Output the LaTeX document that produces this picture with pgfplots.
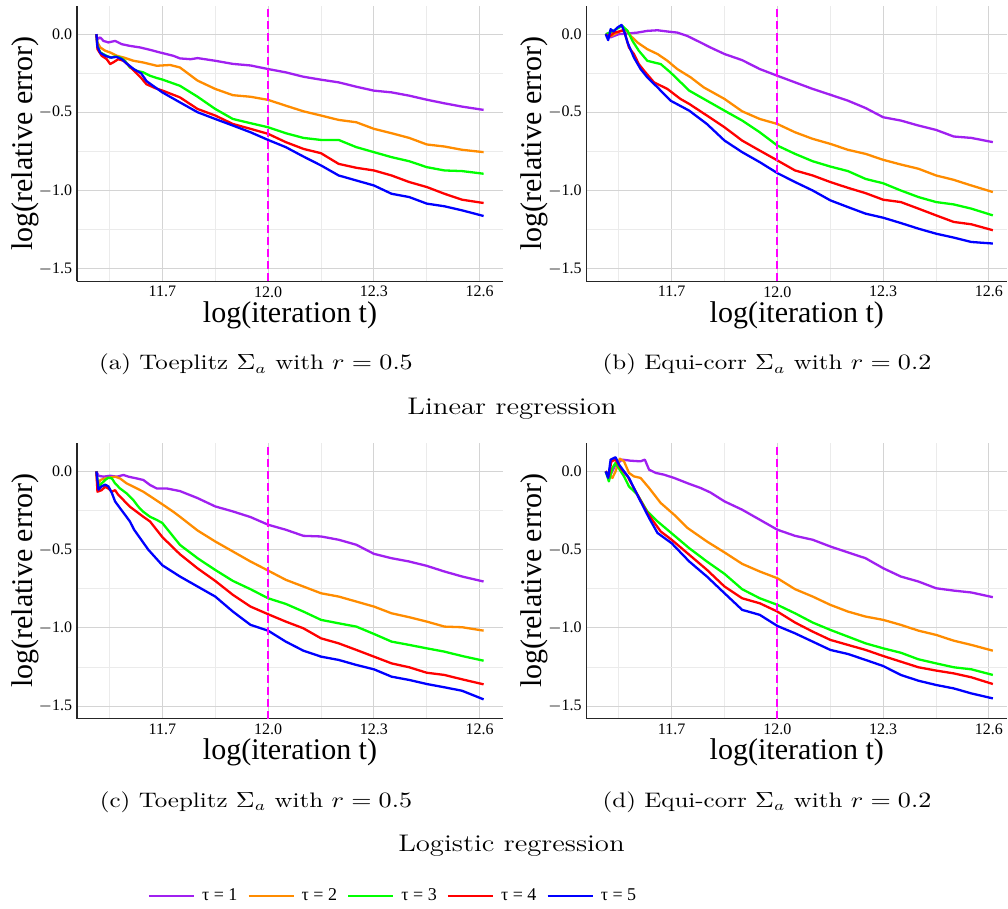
\documentclass[border=0pt]{standalone}
\usepackage[no-math]{fontspec}
\usepackage{graphicx}
\usepackage{pgfplots}
\pgfplotsset{compat=1.18}
\newfontfamily\tnr{Liberation Serif}

\definecolor{cpur}{HTML}{A020F0}
\definecolor{cora}{HTML}{FF8C00}
\definecolor{cgre}{HTML}{00FF00}
\definecolor{cred}{HTML}{FF0000}
\definecolor{cblu}{HTML}{0000FF}
\definecolor{cmag}{HTML}{FF00FF}
\definecolor{gmaj}{HTML}{D4D4D4}
\definecolor{gmin}{HTML}{EBEBEB}

\pgfplotsset{
  panel/.style={
    scale only axis, anchor=north west,
    height=137.7pt,
    xmin=11.458, ymin=-1.58, ymax=0.18,
    axis x line*=bottom, axis y line*=left,
    axis line style={-, draw=black!85, line width=0.6pt},
    xtick={11.7,12.0,12.3,12.6},
    xticklabels={\mbox{11.7},\mbox{12.0},\mbox{12.3},\mbox{12.6}},
    minor xtick={11.55,11.85,12.15,12.45},
    ytick={-1.5,-1,-0.5,0},
    yticklabels={\mbox{$-$1.5},\mbox{$-$1.0},\mbox{$-$0.5},\mbox{0.0}},
    minor ytick={-1.25,-0.75,-0.25},
    grid=both,
    major grid style={draw=gmaj, line width=0.5pt},
    minor grid style={draw=gmin, line width=0.35pt},
    major tick length=0pt, minor tick length=0pt,
    tick label style={font=\tnr\fontsize{8}{9.4}\selectfont},
    xticklabel style={inner sep=0pt, yshift=-2.3pt},
    yticklabel style={inner sep=0pt, xshift=-2.2pt},
    xlabel={log(iteration t)}, ylabel={log(relative error)},
    label style={font=\tnr\fontsize{15}{17}\selectfont, inner sep=0pt},
    xlabel style={at={(axis description cs:0.5,-0.122)}, anchor=center},
    no markers,
    every axis plot/.append style={line width=1.15pt, line join=round},
  },
  leftpanel/.style={panel, width=213pt, xmax=12.666,
    ylabel style={at={(axis description cs:-0.122,0.5)}, anchor=center}},
  rightpanel/.style={panel, width=210.5pt, xmax=12.652,
    ylabel style={at={(axis description cs:-0.124,0.5)}, anchor=center}},
}

\begin{document}
\begin{tikzpicture}
\useasboundingbox (0,0) rectangle (504pt,-454.5pt);

% (a) linear, Toeplitz
\begin{axis}[leftpanel, at={(38.5pt,-3pt)}]
\addplot[cpur] coordinates {(11.513,0)(11.516,-0.032)(11.524,-0.021)(11.533,-0.043)(11.547,-0.053)(11.566,-0.043)(11.585,-0.064)(11.608,-0.075)(11.637,-0.085)(11.665,-0.100)(11.693,-0.117)(11.731,-0.138)(11.75,-0.155)(11.78,-0.16)(11.80,-0.153)(11.85,-0.17)(11.90,-0.19)(11.95,-0.20)(12.00,-0.223)(12.05,-0.244)(12.10,-0.272)(12.15,-0.291)(12.20,-0.308)(12.25,-0.336)(12.30,-0.361)(12.35,-0.372)(12.40,-0.393)(12.45,-0.419)(12.50,-0.442)(12.55,-0.463)(12.611,-0.484)};
\addplot[cora] coordinates {(11.513,0)(11.516,-0.053)(11.524,-0.085)(11.538,-0.106)(11.552,-0.117)(11.571,-0.138)(11.59,-0.149)(11.618,-0.17)(11.646,-0.181)(11.684,-0.202)(11.722,-0.197)(11.75,-0.213)(11.80,-0.297)(11.85,-0.35)(11.90,-0.39)(11.95,-0.40)(12.00,-0.42)(12.05,-0.457)(12.10,-0.493)(12.15,-0.52)(12.20,-0.548)(12.25,-0.563)(12.30,-0.605)(12.35,-0.633)(12.40,-0.663)(12.45,-0.705)(12.50,-0.718)(12.55,-0.739)(12.611,-0.754)};
\addplot[cgre] coordinates {(11.513,0)(11.516,-0.075)(11.524,-0.117)(11.538,-0.134)(11.552,-0.149)(11.566,-0.143)(11.58,-0.149)(11.594,-0.17)(11.608,-0.213)(11.627,-0.234)(11.646,-0.244)(11.665,-0.266)(11.684,-0.28)(11.70,-0.29)(11.75,-0.33)(11.80,-0.40)(11.85,-0.478)(11.90,-0.542)(11.95,-0.569)(12.00,-0.595)(12.05,-0.633)(12.10,-0.663)(12.15,-0.676)(12.20,-0.676)(12.25,-0.722)(12.30,-0.754)(12.35,-0.786)(12.40,-0.812)(12.45,-0.85)(12.50,-0.871)(12.55,-0.875)(12.611,-0.892)};
\addplot[cred] coordinates {(11.513,0)(11.516,-0.096)(11.528,-0.138)(11.542,-0.159)(11.552,-0.191)(11.561,-0.18)(11.575,-0.16)(11.59,-0.17)(11.605,-0.20)(11.62,-0.235)(11.64,-0.28)(11.655,-0.32)(11.68,-0.345)(11.70,-0.36)(11.75,-0.404)(11.80,-0.478)(11.85,-0.52)(11.90,-0.574)(11.95,-0.605)(12.00,-0.637)(12.05,-0.69)(12.10,-0.733)(12.15,-0.761)(12.20,-0.829)(12.25,-0.854)(12.30,-0.871)(12.35,-0.903)(12.40,-0.945)(12.45,-0.977)(12.50,-1.02)(12.55,-1.058)(12.611,-1.079)};
\addplot[cblu] coordinates {(11.513,0)(11.516,-0.08)(11.524,-0.12)(11.54,-0.14)(11.555,-0.15)(11.57,-0.145)(11.585,-0.16)(11.60,-0.19)(11.62,-0.225)(11.64,-0.25)(11.655,-0.30)(11.68,-0.34)(11.70,-0.372)(11.75,-0.436)(11.80,-0.499)(11.85,-0.542)(11.90,-0.584)(11.95,-0.627)(12.00,-0.676)(12.05,-0.722)(12.10,-0.782)(12.15,-0.839)(12.20,-0.903)(12.25,-0.935)(12.30,-0.967)(12.35,-1.02)(12.40,-1.041)(12.45,-1.083)(12.50,-1.10)(12.55,-1.126)(12.611,-1.162)};
\addplot[cmag, line width=1pt, dash pattern=on 4pt off 2pt] coordinates {(12,-1.58)(12,0.18)};
\end{axis}

% (b) linear, equi-corr
\begin{axis}[rightpanel, at={(293.15pt,-3pt)}]
\addplot[cpur] coordinates {(11.513,0)(11.527,-0.02)(11.55,0.0)(11.575,0.004)(11.603,0.01)(11.631,0.021)(11.66,0.025)(11.688,0.017)(11.716,0.01)(11.744,-0.011)(11.782,-0.053)(11.81,-0.085)(11.85,-0.127)(11.90,-0.166)(11.95,-0.223)(12.00,-0.266)(12.05,-0.308)(12.10,-0.35)(12.15,-0.387)(12.20,-0.425)(12.25,-0.472)(12.30,-0.531)(12.35,-0.552)(12.40,-0.584)(12.45,-0.612)(12.50,-0.654)(12.55,-0.663)(12.611,-0.69)};
\addplot[cora] coordinates {(11.513,0)(11.53,-0.01)(11.555,0.021)(11.57,0.032)(11.584,-0.011)(11.603,-0.053)(11.631,-0.096)(11.66,-0.127)(11.688,-0.17)(11.716,-0.223)(11.754,-0.276)(11.791,-0.34)(11.85,-0.414)(11.90,-0.493)(11.95,-0.542)(12.00,-0.574)(12.05,-0.627)(12.10,-0.669)(12.15,-0.701)(12.20,-0.739)(12.25,-0.765)(12.30,-0.803)(12.35,-0.833)(12.40,-0.86)(12.45,-0.903)(12.50,-0.931)(12.55,-0.967)(12.611,-1.009)};
\addplot[cgre] coordinates {(11.513,0)(11.532,0.017)(11.545,0.035)(11.56,0.053)(11.575,0.021)(11.589,-0.043)(11.607,-0.106)(11.631,-0.17)(11.65,-0.181)(11.669,-0.191)(11.697,-0.245)(11.75,-0.361)(11.80,-0.425)(11.85,-0.489)(11.90,-0.552)(11.95,-0.627)(12.00,-0.712)(12.05,-0.765)(12.10,-0.812)(12.15,-0.846)(12.20,-0.875)(12.25,-0.925)(12.30,-0.953)(12.35,-0.999)(12.40,-1.041)(12.45,-1.073)(12.50,-1.088)(12.55,-1.115)(12.611,-1.158)};
\addplot[cred] coordinates {(11.513,0)(11.522,-0.017)(11.537,0.01)(11.551,0.017)(11.565,0.025)(11.579,-0.085)(11.593,-0.127)(11.607,-0.191)(11.622,-0.234)(11.65,-0.308)(11.688,-0.35)(11.725,-0.414)(11.75,-0.446)(11.80,-0.52)(11.85,-0.595)(11.90,-0.68)(11.95,-0.744)(12.00,-0.807)(12.05,-0.871)(12.10,-0.903)(12.15,-0.945)(12.20,-0.982)(12.25,-1.016)(12.30,-1.058)(12.35,-1.073)(12.40,-1.115)(12.45,-1.158)(12.50,-1.20)(12.55,-1.215)(12.611,-1.253)};
\addplot[cblu] coordinates {(11.513,0)(11.52,-0.038)(11.527,0.032)(11.535,0.017)(11.546,0.042)(11.558,0.059)(11.565,0.021)(11.575,-0.053)(11.593,-0.149)(11.612,-0.223)(11.631,-0.276)(11.66,-0.34)(11.697,-0.425)(11.75,-0.489)(11.80,-0.574)(11.85,-0.68)(11.90,-0.754)(11.95,-0.818)(12.00,-0.888)(12.05,-0.945)(12.10,-0.999)(12.15,-1.062)(12.20,-1.105)(12.25,-1.147)(12.30,-1.173)(12.35,-1.207)(12.40,-1.243)(12.45,-1.275)(12.50,-1.30)(12.55,-1.328)(12.611,-1.338)};
\addplot[cmag, line width=1pt, dash pattern=on 4pt off 2pt] coordinates {(12,-1.58)(12,0.18)};
\end{axis}

% (c) logistic, Toeplitz
\begin{axis}[leftpanel, at={(38.5pt,-221.6pt)},
  legend style={at={(0.744,-0.645)}, anchor=center, draw=none, fill=none,
    legend columns=5, font=\tnr\fontsize{9}{10}\selectfont,
    /tikz/every odd column/.append style={column sep=1.5pt},
    /tikz/every even column/.append style={column sep=3pt}},
  legend image code/.code={\draw[#1, line width=1.15pt] (0pt,0pt) -- (22.5pt,0pt);}]
\addplot[cpur] coordinates {(11.513,0)(11.519,-0.028)(11.533,-0.034)(11.552,-0.028)(11.571,-0.034)(11.59,-0.023)(11.604,-0.034)(11.627,-0.045)(11.646,-0.055)(11.665,-0.087)(11.684,-0.109)(11.712,-0.109)(11.75,-0.126)(11.80,-0.171)(11.85,-0.224)(11.90,-0.256)(11.95,-0.292)(12.00,-0.341)(12.05,-0.373)(12.10,-0.412)(12.15,-0.416)(12.20,-0.437)(12.25,-0.469)(12.30,-0.527)(12.35,-0.555)(12.40,-0.576)(12.45,-0.604)(12.50,-0.64)(12.55,-0.672)(12.611,-0.704)};
\addlegendentry{τ = 1}
\addplot[cora] coordinates {(11.513,0)(11.516,-0.1)(11.524,-0.055)(11.538,-0.045)(11.552,-0.04)(11.566,-0.034)(11.58,-0.045)(11.599,-0.077)(11.618,-0.098)(11.646,-0.13)(11.675,-0.173)(11.703,-0.215)(11.731,-0.258)(11.75,-0.29)(11.80,-0.378)(11.85,-0.448)(11.90,-0.512)(11.95,-0.576)(12.00,-0.634)(12.05,-0.693)(12.10,-0.736)(12.15,-0.779)(12.20,-0.80)(12.25,-0.832)(12.30,-0.864)(12.35,-0.907)(12.40,-0.932)(12.45,-0.96)(12.50,-0.992)(12.55,-0.996)(12.611,-1.018)};
\addlegendentry{τ = 2}
\addplot[cgre] coordinates {(11.513,0)(11.519,-0.1)(11.528,-0.077)(11.538,-0.055)(11.547,-0.04)(11.557,-0.045)(11.566,-0.077)(11.58,-0.109)(11.599,-0.141)(11.618,-0.184)(11.632,-0.226)(11.646,-0.258)(11.665,-0.29)(11.684,-0.31)(11.70,-0.33)(11.75,-0.47)(11.80,-0.555)(11.85,-0.63)(11.90,-0.70)(11.95,-0.753)(12.00,-0.811)(12.05,-0.847)(12.10,-0.896)(12.15,-0.949)(12.20,-0.971)(12.25,-0.992)(12.30,-1.039)(12.35,-1.088)(12.40,-1.109)(12.45,-1.131)(12.50,-1.152)(12.55,-1.18)(12.611,-1.21)};
\addlegendentry{τ = 3}
\addplot[cred] coordinates {(11.513,0)(11.516,-0.13)(11.528,-0.12)(11.538,-0.098)(11.547,-0.11)(11.557,-0.13)(11.566,-0.12)(11.575,-0.15)(11.59,-0.184)(11.608,-0.226)(11.627,-0.258)(11.646,-0.29)(11.665,-0.32)(11.70,-0.42)(11.75,-0.53)(11.80,-0.62)(11.85,-0.70)(11.90,-0.789)(11.95,-0.864)(12.00,-0.913)(12.05,-0.96)(12.10,-1.003)(12.15,-1.067)(12.20,-1.099)(12.25,-1.141)(12.30,-1.184)(12.35,-1.227)(12.40,-1.252)(12.45,-1.287)(12.50,-1.301)(12.55,-1.329)(12.611,-1.361)};
\addlegendentry{τ = 4}
\addplot[cblu] coordinates {(11.513,0)(11.519,-0.117)(11.528,-0.096)(11.538,-0.085)(11.547,-0.096)(11.557,-0.139)(11.566,-0.192)(11.58,-0.235)(11.594,-0.277)(11.608,-0.32)(11.62,-0.373)(11.66,-0.50)(11.70,-0.60)(11.75,-0.672)(11.80,-0.736)(11.85,-0.80)(11.90,-0.896)(11.95,-0.981)(12.00,-1.018)(12.05,-1.088)(12.10,-1.146)(12.15,-1.184)(12.20,-1.205)(12.25,-1.237)(12.30,-1.265)(12.35,-1.312)(12.40,-1.333)(12.45,-1.359)(12.50,-1.38)(12.55,-1.402)(12.611,-1.457)};
\addlegendentry{τ = 5}
\addplot[cmag, line width=1pt, dash pattern=on 4pt off 2pt, forget plot] coordinates {(12,-1.58)(12,0.18)};
\end{axis}

% (d) logistic, equi-corr
\begin{axis}[rightpanel, at={(293.15pt,-221.6pt)}]
\addplot[cpur] coordinates {(11.513,0)(11.527,-0.021)(11.541,0.043)(11.56,0.075)(11.584,0.068)(11.612,0.064)(11.624,0.075)(11.636,0.011)(11.655,-0.01)(11.678,-0.021)(11.707,-0.042)(11.75,-0.08)(11.782,-0.106)(11.81,-0.135)(11.85,-0.192)(11.90,-0.245)(11.95,-0.309)(12.00,-0.373)(12.05,-0.412)(12.10,-0.437)(12.15,-0.48)(12.20,-0.518)(12.25,-0.555)(12.30,-0.619)(12.35,-0.672)(12.40,-0.704)(12.45,-0.747)(12.50,-0.762)(12.55,-0.774)(12.611,-0.804)};
\addplot[cora] coordinates {(11.513,0)(11.532,-0.042)(11.541,0)(11.553,0.081)(11.565,0.064)(11.579,-0.01)(11.593,-0.032)(11.612,-0.042)(11.636,-0.106)(11.669,-0.202)(11.707,-0.277)(11.744,-0.36)(11.80,-0.448)(11.85,-0.518)(11.90,-0.591)(11.95,-0.64)(12.00,-0.683)(12.05,-0.753)(12.10,-0.80)(12.15,-0.853)(12.20,-0.896)(12.25,-0.928)(12.30,-0.949)(12.35,-0.981)(12.40,-1.018)(12.45,-1.045)(12.50,-1.082)(12.55,-1.109)(12.611,-1.146)};
\addplot[cgre] coordinates {(11.513,0)(11.522,-0.064)(11.532,0.022)(11.541,0.054)(11.553,0.01)(11.565,-0.032)(11.579,-0.096)(11.603,-0.149)(11.631,-0.256)(11.66,-0.32)(11.697,-0.39)(11.75,-0.491)(11.80,-0.576)(11.85,-0.655)(11.90,-0.753)(11.95,-0.811)(12.00,-0.853)(12.05,-0.907)(12.10,-0.966)(12.15,-1.013)(12.20,-1.056)(12.25,-1.099)(12.30,-1.131)(12.35,-1.159)(12.40,-1.201)(12.45,-1.227)(12.50,-1.252)(12.55,-1.265)(12.611,-1.301)};
\addplot[cred] coordinates {(11.513,0)(11.522,-0.032)(11.529,0.064)(11.541,0.075)(11.555,0.022)(11.575,-0.032)(11.603,-0.149)(11.631,-0.266)(11.669,-0.384)(11.70,-0.437)(11.75,-0.533)(11.80,-0.629)(11.85,-0.736)(11.90,-0.811)(11.95,-0.843)(12.00,-0.896)(12.05,-0.966)(12.10,-1.024)(12.15,-1.077)(12.20,-1.109)(12.25,-1.141)(12.30,-1.18)(12.35,-1.216)(12.40,-1.252)(12.45,-1.273)(12.50,-1.291)(12.55,-1.316)(12.611,-1.359)};
\addplot[cblu] coordinates {(11.513,0)(11.52,-0.042)(11.527,0.075)(11.537,0.086)(11.541,0.09)(11.551,0.043)(11.565,0)(11.579,-0.042)(11.593,-0.106)(11.612,-0.192)(11.636,-0.298)(11.66,-0.394)(11.70,-0.459)(11.75,-0.576)(11.80,-0.672)(11.85,-0.779)(11.90,-0.885)(11.95,-0.917)(12.00,-0.988)(12.05,-1.035)(12.10,-1.088)(12.15,-1.141)(12.20,-1.167)(12.25,-1.205)(12.30,-1.244)(12.35,-1.301)(12.40,-1.338)(12.45,-1.365)(12.50,-1.387)(12.55,-1.419)(12.611,-1.451)};
\addplot[cmag, line width=1pt, dash pattern=on 4pt off 2pt] coordinates {(12,-1.58)(12,0.18)};
\end{axis}

% captions and group titles
\begin{scope}[every node/.style={font=\fontsize{10.5}{12}\selectfont, inner sep=0pt}]
\node at (128pt,-182.25pt) {\scalebox{1.19}[1]{(a) Toeplitz $\Sigma_a$ with $r=0.5$}};
\node at (383.5pt,-182.25pt) {\scalebox{1.19}[1]{(b) Equi-corr $\Sigma_a$ with $r=0.2$}};
\node at (128pt,-401pt) {\scalebox{1.19}[1]{(c) Toeplitz $\Sigma_a$ with $r=0.5$}};
\node at (383.5pt,-401pt) {\scalebox{1.19}[1]{(d) Equi-corr $\Sigma_a$ with $r=0.2$}};
\node[font=\fontsize{12}{14}\selectfont] at (256pt,-204.25pt) {\scalebox{1.2}[1]{Linear regression}};
\node[font=\fontsize{12}{14}\selectfont] at (255.75pt,-423pt) {\scalebox{1.2}[1]{Logistic regression}};
\end{scope}
\end{tikzpicture}
\end{document}
